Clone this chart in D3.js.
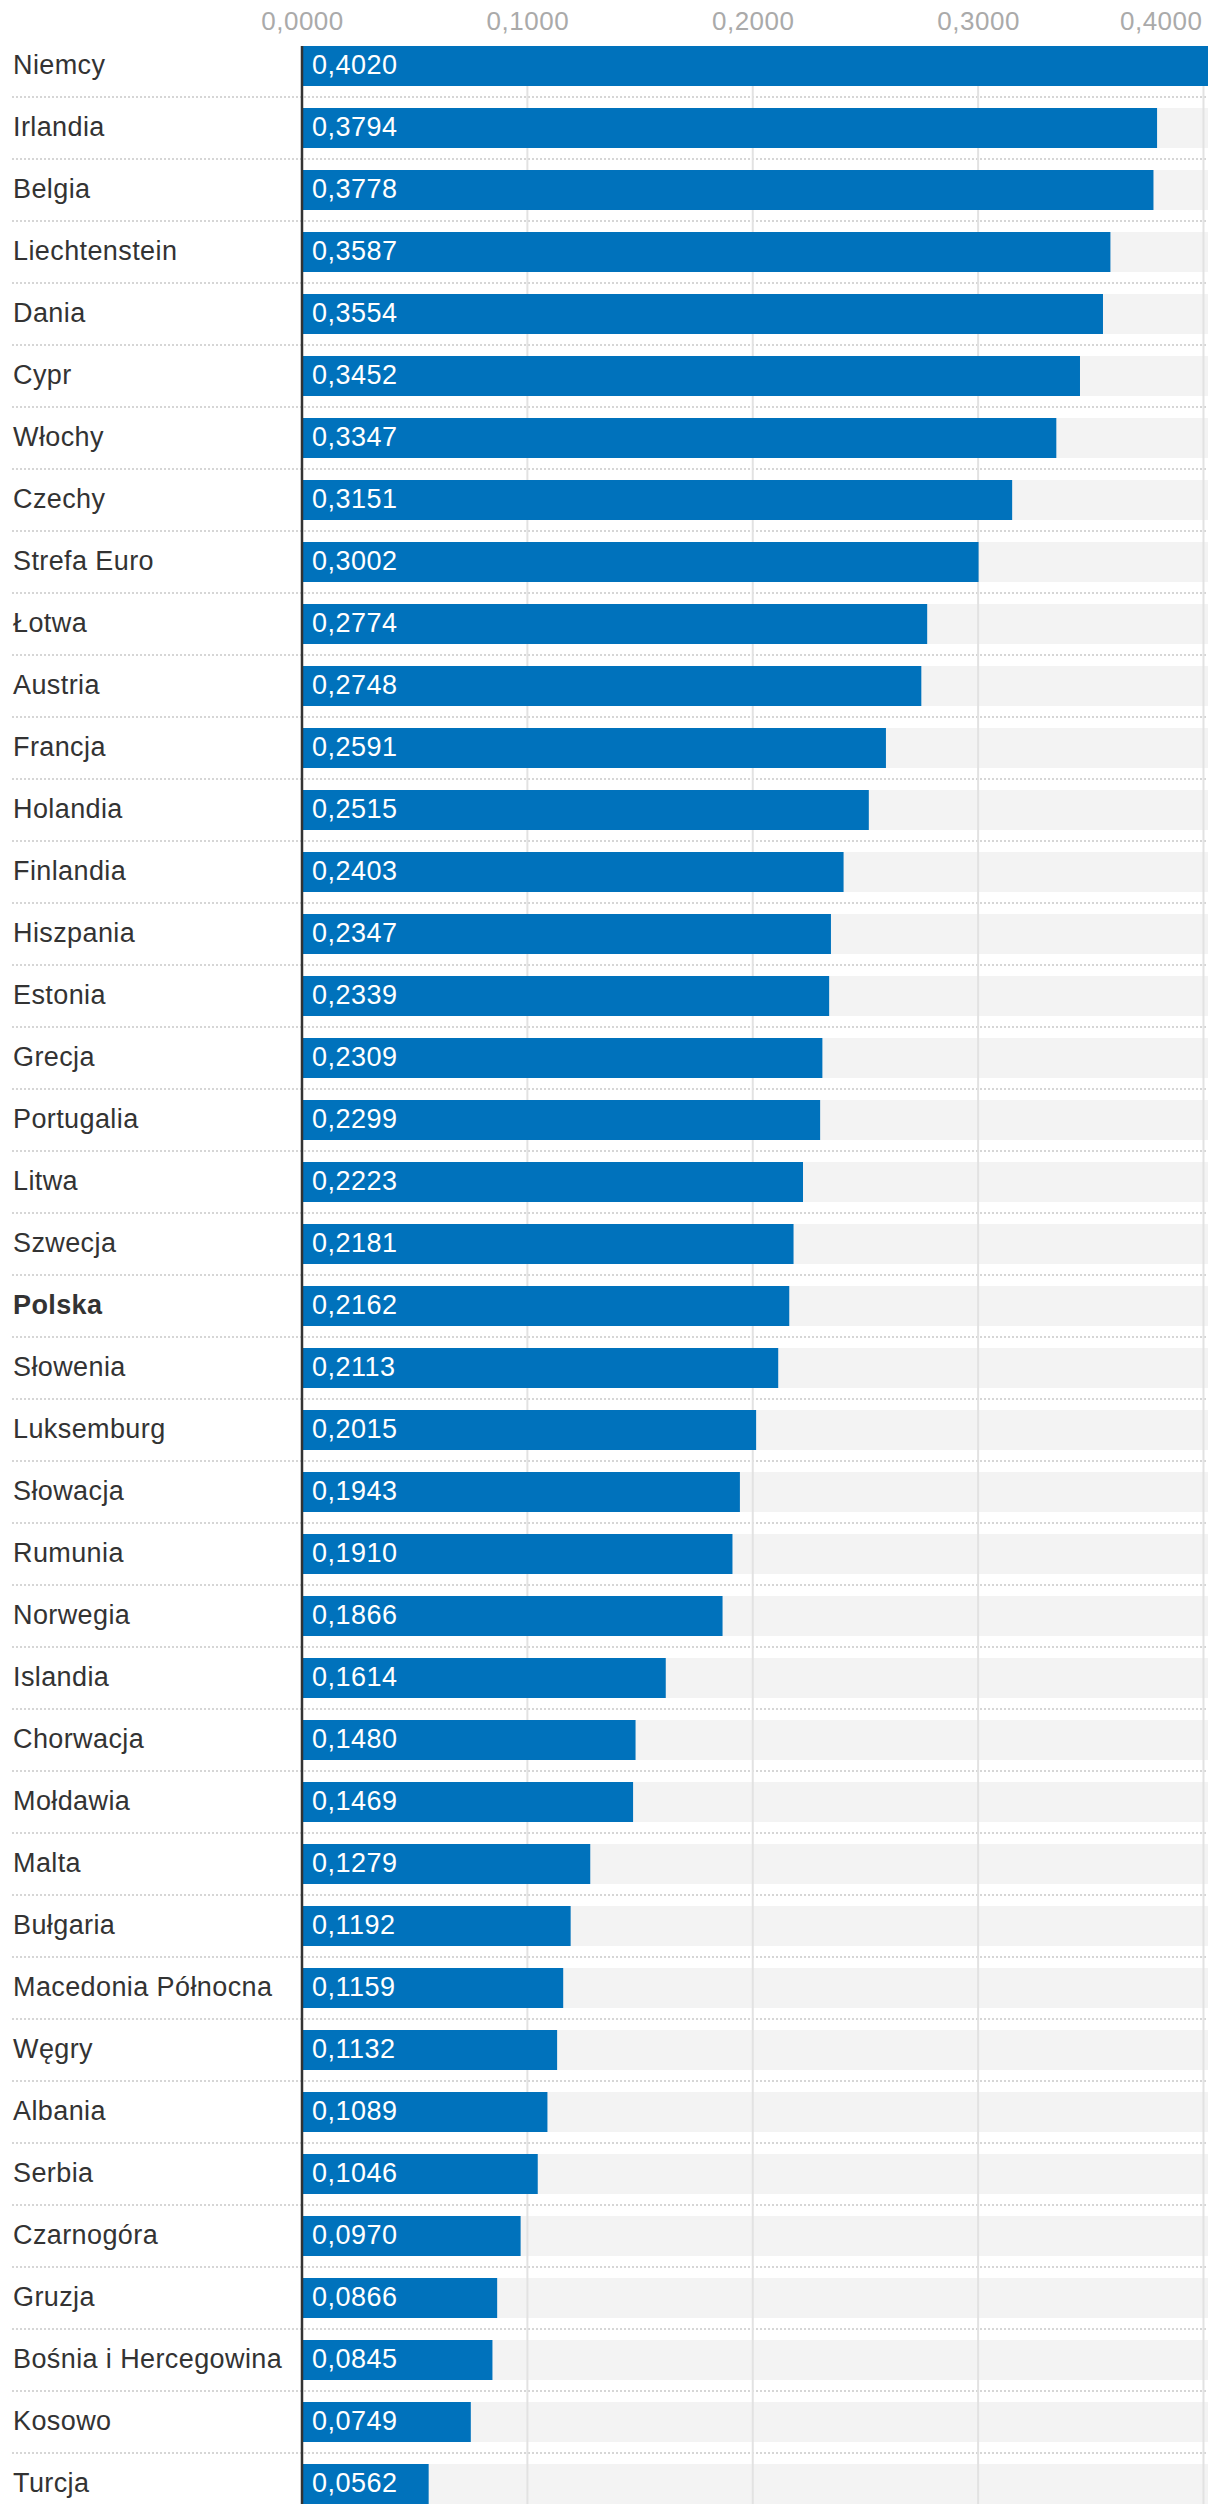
<!DOCTYPE html>
<html>
<head>
<meta charset="utf-8">
<script src="https://cdn.jsdelivr.net/npm/d3@7"></script>
<style>
  body { margin: 0; background: #fff; }
  svg { display: block; font-family: "Liberation Sans", Arial, Helvetica, sans-serif; }
</style>
</head>
<body>
<div id="chart"></div>
<script>
// country names, top to bottom
var countries = ["Niemcy", "Irlandia", "Belgia", "Liechtenstein", "Dania", "Cypr", "Włochy",
  "Czechy", "Strefa Euro", "Łotwa", "Austria", "Francja", "Holandia", "Finlandia",
  "Hiszpania", "Estonia", "Grecja", "Portugalia", "Litwa", "Szwecja", "Polska",
  "Słowenia", "Luksemburg", "Słowacja", "Rumunia", "Norwegia", "Islandia", "Chorwacja",
  "Mołdawia", "Malta", "Bułgaria", "Macedonia Północna", "Węgry", "Albania", "Serbia",
  "Czarnogóra", "Gruzja", "Bośnia i Hercegowina", "Kosowo", "Turcja"];

var values = [0.4020, 0.3794, 0.3778, 0.3587, 0.3554, 0.3452, 0.3347,
  0.3151, 0.3002, 0.2774, 0.2748, 0.2591, 0.2515, 0.2403,
  0.2347, 0.2339, 0.2309, 0.2299, 0.2223, 0.2181, 0.2162,
  0.2113, 0.2015, 0.1943, 0.1910, 0.1866, 0.1614, 0.1480,
  0.1469, 0.1279, 0.1192, 0.1159, 0.1132, 0.1089, 0.1046,
  0.0970, 0.0866, 0.0845, 0.0749, 0.0562];

var ticks = [0, 0.1, 0.2, 0.3, 0.4];
var highlight = "Polska";

var width = 1220, height = 2514;
var marginLeft = 302, plotRight = 1208, marginTop = 46, rowStep = 62, barH = 40;

var fmt = function(v) { return d3.format(".4f")(v).replace(".", ","); };

var svg = d3.select("#chart").append("svg")
    .attr("width", width)
    .attr("height", height);

var x = d3.scaleLinear()
    .domain([0, d3.max(values)])
    .range([marginLeft, plotRight]);

// range ends at the bottom of the last bar so the step is exactly rowStep
var y = d3.scaleBand()
    .domain(countries)
    .range([marginTop, marginTop + rowStep * (countries.length - 1) + barH])
    .paddingInner((rowStep - barH) / rowStep)
    .paddingOuter(0);

var data = countries.map(function(c, i) { return {name: c, value: values[i]}; });
var lastBottom = y(countries[countries.length - 1]) + y.bandwidth();

// dotted separators between rows
svg.append("g").selectAll("line")
    .data(data.slice(1))
    .join("line")
    .attr("x1", 12).attr("x2", plotRight)
    .attr("y1", function(d) { return y(d.name) - 11; })
    .attr("y2", function(d) { return y(d.name) - 11; })
    .attr("stroke", "#d6d6d6")
    .attr("stroke-width", 2)
    .attr("stroke-dasharray", "2,2");

// grey track behind each bar
svg.append("g").selectAll("rect")
    .data(data)
    .join("rect")
    .attr("x", x(0))
    .attr("y", function(d) { return y(d.name); })
    .attr("width", x.range()[1] - x(0))
    .attr("height", y.bandwidth())
    .attr("fill", "#f3f3f3");

// vertical grid lines
svg.append("g").selectAll("line")
    .data(ticks.slice(1))
    .join("line")
    .attr("x1", x).attr("x2", x)
    .attr("y1", marginTop).attr("y2", lastBottom)
    .attr("stroke", "#e2e2e2")
    .attr("stroke-width", 2);

// top axis labels
var axis = d3.axisTop(x).tickValues(ticks).tickFormat(fmt).tickSize(0);
var ax = svg.append("g")
    .attr("transform", "translate(0,30)")
    .call(axis);
ax.select(".domain").remove();
ax.selectAll("text")
    .attr("fill", "#aaaaaa")
    .attr("font-size", 26)
    .attr("letter-spacing", 0.5)
    .attr("dy", 0)
    .attr("y", 0);
// last label is pulled inside the plot edge
ax.selectAll(".tick").filter(function(d) { return d == ticks[ticks.length - 1]; })
    .select("text")
    .attr("text-anchor", "end")
    .attr("x", plotRight - 6 - x(ticks[ticks.length - 1]));

// bars
svg.append("g").selectAll("rect")
    .data(data)
    .join("rect")
    .attr("x", x(0))
    .attr("y", function(d) { return y(d.name); })
    .attr("width", function(d) { return x(d.value) - x(0); })
    .attr("height", y.bandwidth())
    .attr("fill", "#0072bc");

// value labels in the bars
svg.append("g").selectAll("text")
    .data(data)
    .join("text")
    .attr("x", x(0) + 10)
    .attr("y", function(d) { return y(d.name) + y.bandwidth() / 2 + 8; })
    .attr("fill", "#fff")
    .attr("font-size", 27)
    .attr("letter-spacing", 0.5)
    .text(function(d) { return fmt(d.value); });

// country names
svg.append("g").selectAll("text")
    .data(data)
    .join("text")
    .attr("x", 13)
    .attr("y", function(d) { return y(d.name) + y.bandwidth() / 2 + 8; })
    .attr("fill", "#333")
    .attr("font-size", 27)
    .attr("letter-spacing", 0.4)
    .attr("font-weight", function(d) { return d.name == highlight ? "bold" : "normal"; })
    .text(function(d) { return d.name; });

// zero line
svg.append("line")
    .attr("x1", x(0)).attr("x2", x(0))
    .attr("y1", marginTop).attr("y2", lastBottom)
    .attr("stroke", "#333")
    .attr("stroke-width", 2.5);
</script>
</body>
</html>
